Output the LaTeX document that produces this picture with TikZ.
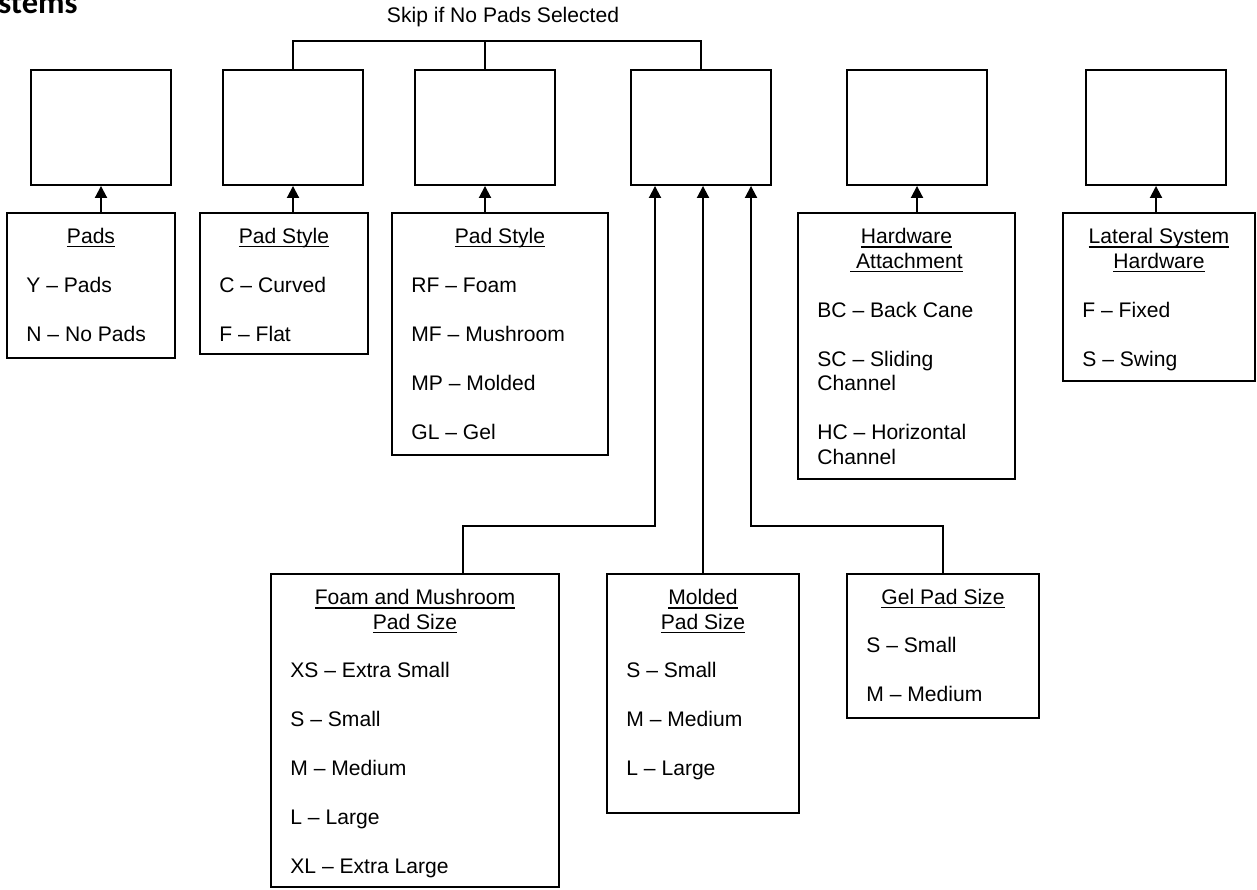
\documentclass[tikz,border=0pt]{standalone}
\usepackage{fontspec}
\setmainfont{Liberation Sans}
\newfontfamily\headfont{Carlito}
\usetikzlibrary{calc,arrows.meta}
\tikzstyle{box}=[rectangle,draw=black,line width=1.1pt,fill=white,inner sep=0pt,anchor=center]
\tikzstyle{annot}=[align=center,anchor=base,inner sep=0pt,font=\fontsize{12}{13.94}\selectfont]
\tikzstyle{choices}=[align=left,anchor=base west,inner sep=0pt,font=\fontsize{12}{13.94}\selectfont]
\tikzstyle{link}=[line width=1.1pt]
\tikzstyle{feed}=[link,-{Triangle[length=0.24cm,width=0.24cm]}]
\newcommand{\uln}[1]{\setbox0\hbox{#1}\rlap{\rule[-2.3pt]{\wd0}{0.8pt}}#1}
\newcommand{\blankline}{\\[13.94pt]}
\begin{document}
\begin{tikzpicture}[x=0.02cm,y=-0.02cm]
	\useasboundingbox (0,0) rectangle (1257,889);
	\node[anchor=base west,inner sep=0pt,font=\headfont\bfseries\fontsize{18.5}{20}\selectfont] (heading) at (-2,13) {stems};

	\foreach \n/\x in {1/101,2/293,3/485,4/701,5/917,6/1156}
		\node[box, minimum width=2.8cm, minimum height=2.3cm] (top\n) at (\x,127.5) {};

	\draw[link] (top2.north) -- ++(0,-28) -| (top4.north);
	\draw[link] (top3.north) -- ++(0,-28);
	\node[annot] (skip) at (503,22) {Skip if No Pads Selected};

	% anchors sit on the last baseline of each text
	\node[box, minimum width=3.36cm, minimum height=2.9cm] (pads) at (91,285.5) {};
	\node[annot] (t-pads) at ($(pads.north)+(0,31)$) {\uln{Pads}};
	\node[choices] (o-pads) at ($(pads.north west)+(20,129)$) {Y -- Pads\blankline N -- No Pads};

	\node[box, minimum width=3.36cm, minimum height=2.82cm] (padstyle) at (284,283.5) {};
	\node[annot] (t-padstyle) at ($(padstyle.north)+(0,31)$) {\uln{Pad Style}};
	\node[choices] (o-padstyle) at ($(padstyle.north west)+(20,129)$) {C -- Curved\blankline F -- Flat};

	\node[box, minimum width=4.32cm, minimum height=4.84cm] (padtype) at (500,334) {};
	\node[annot] (t-padtype) at ($(padtype.north)+(0,31)$) {\uln{Pad Style}};
	\node[choices] (o-padtype) at ($(padtype.north west)+(20,227)$) {RF -- Foam\blankline MF -- Mushroom\blankline MP -- Molded\blankline GL -- Gel};

	\node[box, minimum width=4.34cm, minimum height=5.32cm] (hardware) at (906.5,346) {};
	\node[annot] (t-hardware) at ($(hardware.north)+(0,56)$) {\uln{Hardware}\\\uln{\ Attachment}};
	\node[choices] (o-hardware) at ($(hardware.north west)+(20,252)$) {BC -- Back Cane\blankline SC -- Sliding\\Channel\blankline HC -- Horizontal\\Channel};

	\node[box, minimum width=3.84cm, minimum height=3.36cm] (lateral) at (1159,297) {};
	\node[annot] (t-lateral) at ($(lateral.north)+(0,56)$) {\uln{Lateral System}\\\uln{Hardware}};
	\node[choices] (o-lateral) at ($(lateral.north west)+(20,154)$) {F -- Fixed\blankline S -- Swing};

	\node[box, minimum width=5.76cm, minimum height=6.26cm] (foam) at (415,730.5) {};
	\node[annot] (t-foam) at ($(foam.north)+(0,56)$) {\uln{Foam and Mushroom}\\\uln{Pad Size}};
	\node[choices] (o-foam) at ($(foam.north west)+(20,300)$) {XS -- Extra Small\blankline S -- Small\blankline M -- Medium\blankline L -- Large\blankline XL -- Extra Large};

	\node[box, minimum width=3.84cm, minimum height=4.78cm] (molded) at (703,693.5) {};
	\node[annot] (t-molded) at ($(molded.north)+(0,56)$) {\uln{Molded}\\\uln{Pad Size}};
	\node[choices] (o-molded) at ($(molded.north west)+(20,202)$) {S -- Small\blankline M -- Medium\blankline L -- Large};

	\node[box, minimum width=3.84cm, minimum height=2.88cm] (gel) at (943,646) {};
	\node[annot] (t-gel) at ($(gel.north)+(0,31)$) {\uln{Gel Pad Size}};
	\node[choices] (o-gel) at ($(gel.north west)+(20,128)$) {S -- Small\blankline M -- Medium};

	% feeds into the top row
	\draw[feed] (top1.south |- pads.north) -- (top1.south);
	\draw[feed] (top2.south |- padstyle.north) -- (top2.south);
	\draw[feed] (top3.south |- padtype.north) -- (top3.south);
	\draw[feed] (top5.south |- hardware.north) -- (top5.south);
	\draw[feed] (top6.south |- lateral.north) -- (top6.south);

	\coordinate (in4a) at ($(top4.south)+(-46,0)$);
	\coordinate (in4b) at (molded.north |- top4.south);
	\coordinate (in4c) at ($(top4.south)+(50,0)$);
	\draw[feed] ($(foam.north)+(48,0)$) -- ++(0,-47) -| (in4a);
	\draw[feed] (molded.north) -- (in4b);
	\draw[feed] (gel.north) -- ++(0,-47) -| (in4c);
\end{tikzpicture}
\end{document}
